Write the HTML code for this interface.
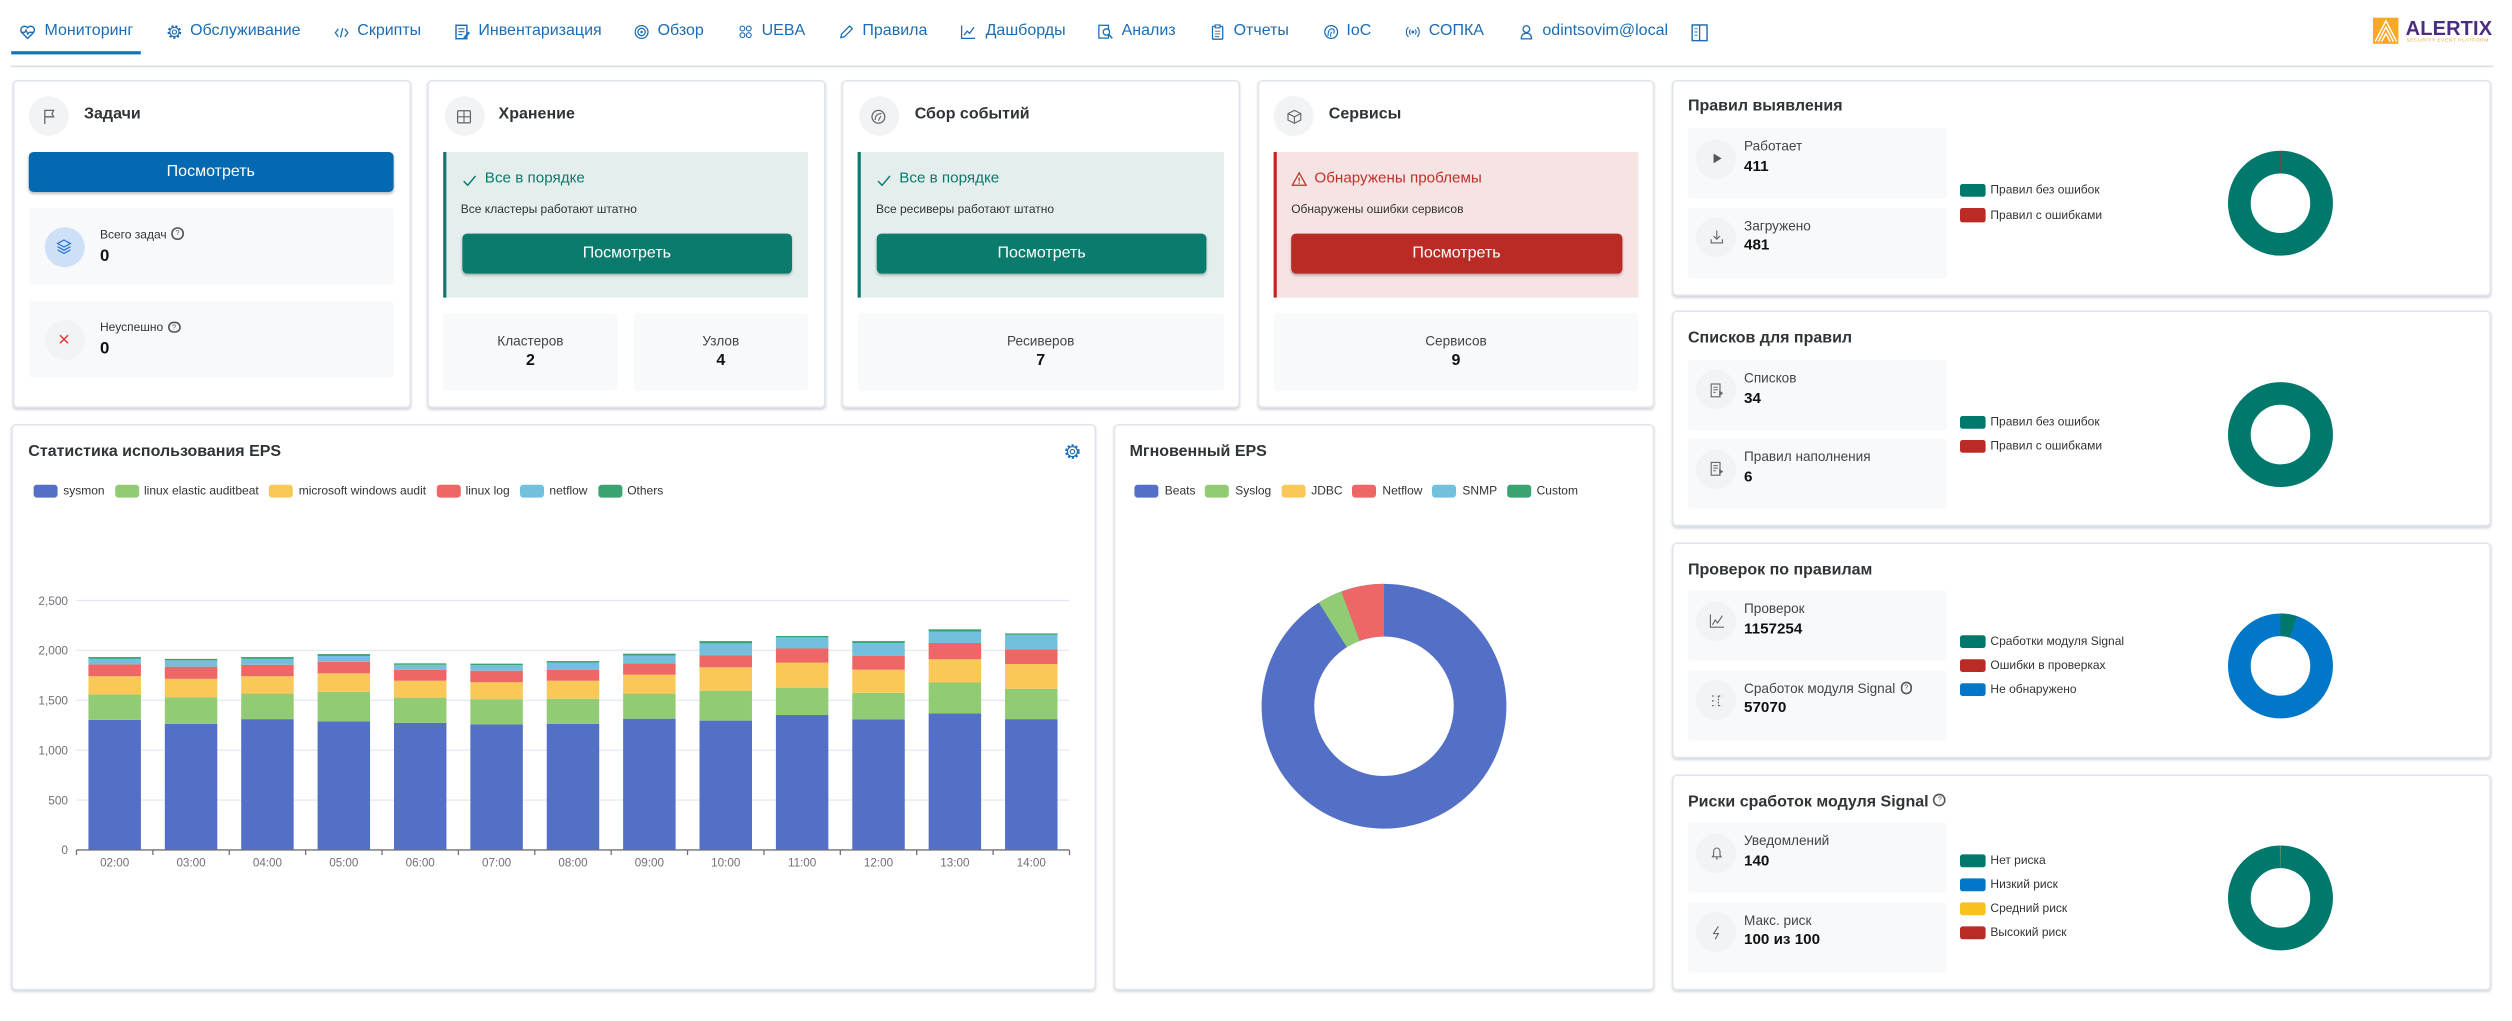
<!DOCTYPE html>
<html><head><meta charset="utf-8">
<style>
html,body{margin:0;padding:0;background:#fff;width:2512px;height:1021px;overflow:hidden;}
#w{position:absolute;left:0;top:0;width:1570px;height:638.2px;transform:scale(1.6);transform-origin:0 0;font-family:"Liberation Sans","DejaVu Sans",sans-serif;color:#333;}
.a{position:absolute;}
.t{position:absolute;white-space:nowrap;height:12px;line-height:12px;}
.nav{font-size:10px;color:#1b6cb4;top:14px;}
.card{position:absolute;background:#fff;border:1px solid #e1e5ec;border-radius:3px;box-sizing:border-box;box-shadow:0 1px 1.5px rgba(60,70,90,.22);}
.ic{position:absolute;width:25px;height:25px;border-radius:50%;background:#f1f3f5;}
.ic svg{position:absolute;left:7.5px;top:7.5px;}
.ttl{font-size:10px;font-weight:bold;color:#2f3439;}
.btn{position:absolute;height:25px;line-height:25px;text-align:center;color:#fff;font-size:10px;border-radius:3px;box-shadow:0 1px 1.5px rgba(0,0,0,.25);}
.box{position:absolute;background:#f7f9fb;border-radius:2px;}
.lbl{font-size:8.5px;color:#444;}
.val{font-size:9.5px;font-weight:bold;color:#111;}
.sl{font-size:7.5px;color:#333;}
.lg{position:absolute;width:15.4px;height:8.3px;border-radius:1.6px;}
.q{display:inline-block;width:5.6px;height:5.6px;border:0.7px solid #555;border-radius:50%;font-size:4.6px;line-height:5.8px;text-align:center;vertical-align:middle;margin-left:3px;color:#555;position:relative;top:-0.5px;}
.el{position:absolute;width:15px;height:7.9px;border-radius:2px;}
</style></head><body>
<div id="w">

<!-- NAV -->
<svg class="a" style="left:12.3px;top:15px" width="10.5" height="10" viewBox="0 0 10 10"><path d="M5 9 L1.3 5.3 A2.3 2.3 0 0 1 5 2.3 A2.3 2.3 0 0 1 8.7 5.3 Z" fill="none" stroke="#1b6cb4" stroke-width="0.9"/><path d="M1 5.2 H3.2 L4 3.8 L5.2 6.4 L6 5.2 H9" fill="none" stroke="#1b6cb4" stroke-width="0.8"/></svg>
<div class="t nav" style="left:27.8px">Мониторинг</div>
<div class="a" style="left:7px;top:32.4px;width:81px;height:1.7px;background:#1471c5"></div>

<svg class="a" style="left:103.6px;top:15px" width="10" height="10" viewBox="0 0 10 10"><circle cx="5" cy="5" r="3.6" fill="none" stroke="#1b6cb4" stroke-width="1.4" stroke-dasharray="1.3 1.2"/><circle cx="5" cy="5" r="2.9" fill="none" stroke="#1b6cb4" stroke-width="0.7"/><circle cx="5" cy="5" r="1.3" fill="none" stroke="#1b6cb4" stroke-width="0.7"/></svg>
<div class="t nav" style="left:118.8px">Обслуживание</div>

<svg class="a" style="left:208.5px;top:15.5px" width="9" height="9" viewBox="0 0 9 9"><path d="M2.5 2 L0.6 4.5 L2.5 7 M6.5 2 L8.4 4.5 L6.5 7 M5.2 1.5 L3.8 7.5" fill="none" stroke="#1b6cb4" stroke-width="0.8"/></svg>
<div class="t nav" style="left:223.3px">Скрипты</div>

<svg class="a" style="left:284px;top:15px" width="10" height="10" viewBox="0 0 10 10"><rect x="1" y="0.8" width="6.8" height="8.4" fill="none" stroke="#1b6cb4" stroke-width="0.9"/><path d="M2.5 3H6.3M2.5 4.8H6.3M2.5 6.6H5" stroke="#1b6cb4" stroke-width="0.7"/><path d="M6 8.8 L9.3 5.2" stroke="#1b6cb4" stroke-width="1.3"/></svg>
<div class="t nav" style="left:299px">Инвентаризация</div>

<svg class="a" style="left:396px;top:15px" width="10" height="10" viewBox="0 0 10 10"><circle cx="5" cy="5" r="4" fill="none" stroke="#1b6cb4" stroke-width="0.8"/><circle cx="5" cy="5" r="2.3" fill="none" stroke="#1b6cb4" stroke-width="0.8"/><circle cx="5" cy="5" r="0.8" fill="#1b6cb4"/></svg>
<div class="t nav" style="left:411px">Обзор</div>

<svg class="a" style="left:461px;top:15px" width="10" height="10" viewBox="0 0 10 10"><circle cx="3" cy="2.8" r="1.5" fill="none" stroke="#1b6cb4" stroke-width="0.7"/><circle cx="7" cy="2.8" r="1.5" fill="none" stroke="#1b6cb4" stroke-width="0.7"/><circle cx="3" cy="7" r="1.5" fill="none" stroke="#1b6cb4" stroke-width="0.7"/><circle cx="7" cy="7" r="1.5" fill="none" stroke="#1b6cb4" stroke-width="0.7"/></svg>
<div class="t nav" style="left:476px">UEBA</div>

<svg class="a" style="left:524px;top:15px" width="10" height="10" viewBox="0 0 10 10"><path d="M1.5 8.5 L2 6.3 L7 1.3 L8.7 3 L3.7 8 Z" fill="none" stroke="#1b6cb4" stroke-width="0.8"/></svg>
<div class="t nav" style="left:539px">Правила</div>

<svg class="a" style="left:600px;top:15px" width="10" height="10" viewBox="0 0 10 10"><path d="M1 1 V9 H9.5" fill="none" stroke="#1b6cb4" stroke-width="0.8"/><path d="M2.5 7 L4.5 4.5 L6 5.8 L8.8 2" fill="none" stroke="#1b6cb4" stroke-width="0.8"/></svg>
<div class="t nav" style="left:616px">Дашборды</div>

<svg class="a" style="left:686px;top:15px" width="10" height="10" viewBox="0 0 10 10"><rect x="0.8" y="0.8" width="6" height="8" fill="none" stroke="#1b6cb4" stroke-width="0.8"/><circle cx="5.5" cy="5" r="2" fill="#fff" stroke="#1b6cb4" stroke-width="0.8"/><path d="M7 6.5 L9.2 9" stroke="#1b6cb4" stroke-width="0.9"/></svg>
<div class="t nav" style="left:701px">Анализ</div>

<svg class="a" style="left:756px;top:15px" width="10" height="10" viewBox="0 0 10 10"><rect x="1.8" y="1.5" width="6.4" height="8" rx="0.6" fill="none" stroke="#1b6cb4" stroke-width="0.8"/><rect x="3.5" y="0.6" width="3" height="1.8" fill="#fff" stroke="#1b6cb4" stroke-width="0.7"/><path d="M3.3 4.5H6.7M3.3 6.2H6.7M3.3 7.9H6" stroke="#1b6cb4" stroke-width="0.6"/></svg>
<div class="t nav" style="left:771px">Отчеты</div>

<svg class="a" style="left:827px;top:15px" width="10" height="10" viewBox="0 0 10 10"><circle cx="5" cy="5" r="4" fill="none" stroke="#1b6cb4" stroke-width="0.8"/><path d="M3 7.5 C3 4 4 3 5.5 3 C7 3 7.2 4.5 6.5 6 M4.6 8 C4.6 6 5 5 5.6 5" fill="none" stroke="#1b6cb4" stroke-width="0.7"/></svg>
<div class="t nav" style="left:841.5px">IoC</div>

<svg class="a" style="left:878px;top:15px" width="10" height="10" viewBox="0 0 10 10"><path d="M2.3 2 A4 4 0 0 0 2.3 8 M7.7 2 A4 4 0 0 1 7.7 8 M3.6 3.4 A2.2 2.2 0 0 0 3.6 6.6 M6.4 3.4 A2.2 2.2 0 0 1 6.4 6.6" fill="none" stroke="#1b6cb4" stroke-width="0.7"/><circle cx="5" cy="5" r="0.9" fill="#1b6cb4"/></svg>
<div class="t nav" style="left:893px">СОПКА</div>

<svg class="a" style="left:949px;top:15px" width="10" height="10" viewBox="0 0 10 10"><circle cx="5" cy="3.2" r="2.1" fill="none" stroke="#1b6cb4" stroke-width="0.8"/><path d="M1.8 9.3 C1.8 6.5 3.2 5.8 5 5.8 C6.8 5.8 8.2 6.5 8.2 9.3 Z" fill="none" stroke="#1b6cb4" stroke-width="0.8"/></svg>
<div class="t nav" style="left:964px">odintsovim@local</div>

<svg class="a" style="left:1057px;top:14.5px" width="10.5" height="11" viewBox="0 0 10.5 11"><rect x="0.6" y="0.6" width="9.3" height="9.8" fill="none" stroke="#1b6cb4" stroke-width="0.9"/><path d="M5.25 0.6V10.4" stroke="#1b6cb4" stroke-width="0.8"/><path d="M2 3H4M2 5H4M2 7H4" stroke="#1b6cb4" stroke-width="0.6"/></svg>

<!-- logo -->
<svg class="a" style="left:1483px;top:11.4px" width="16.4" height="16.4" viewBox="0 0 16.4 16.4"><rect width="16.4" height="16.4" fill="#f8a823"/><path d="M1.5 15 L8.2 2 L14.9 15 M3.5 15 L8.2 6 L12.9 15 M5.5 15 L8.2 10 L10.9 15" fill="none" stroke="#fff" stroke-width="0.9"/></svg>
<div class="t" style="left:1503.5px;top:11.5px;font-size:12.5px;font-weight:bold;color:#4b2d80;letter-spacing:0.1px">ALERTIX</div>
<div class="t" style="left:1504px;top:19px;font-size:3.1px;color:#f3a42a;letter-spacing:0.32px">SECURITY EVENT PLATFORM</div>

<div class="a" style="left:7px;top:41.2px;width:1551px;height:1px;background:#d5dce7"></div>

<!-- ===== CARD 1 ===== -->
<div class="card" style="left:7.5px;top:49.5px;width:249px;height:205px"></div>
<div class="ic" style="left:18px;top:60px"><svg width="10" height="10" viewBox="0 0 10 10"><path d="M2 9.5V1 H7.5 L6.5 3 L7.5 5 H2" fill="none" stroke="#666" stroke-width="0.8"/></svg></div>
<div class="t ttl" style="left:52.5px;top:66.4px">Задачи</div>
<div class="btn" style="left:17.5px;top:95px;width:228.5px;background:#0569b1">Посмотреть</div>

<div class="box" style="left:17.5px;top:130px;width:228.5px;height:48px"></div>
<div class="ic" style="left:27.5px;top:141.5px;background:#cde0f7"><svg width="10" height="10" viewBox="0 0 10 10"><path d="M5 1 L9 3.2 L5 5.4 L1 3.2 Z" fill="none" stroke="#2c78cf" stroke-width="0.8"/><path d="M1 5.2 L5 7.4 L9 5.2 M1 7.2 L5 9.4 L9 7.2" fill="none" stroke="#2c78cf" stroke-width="0.8"/></svg></div>
<div class="t sl" style="left:62.5px;top:140.7px">Всего задач<span class="q">?</span></div>
<div class="t" style="left:62.5px;top:154px;font-size:10.5px;font-weight:bold;color:#111">0</div>

<div class="box" style="left:17.5px;top:188px;width:228.5px;height:48px"></div>
<div class="ic" style="left:27.5px;top:199.5px"><svg width="10" height="10" viewBox="0 0 10 10"><path d="M2.5 2.5 L7.5 7.5 M7.5 2.5 L2.5 7.5" stroke="#d93a35" stroke-width="0.9"/></svg></div>
<div class="t sl" style="left:62.5px;top:199px">Неуспешно<span class="q">?</span></div>
<div class="t" style="left:62.5px;top:212px;font-size:10.5px;font-weight:bold;color:#111">0</div>

<!-- ===== CARD 2 ===== -->
<div class="card" style="left:266.8px;top:49.5px;width:249px;height:205px"></div>
<div class="ic" style="left:277.6px;top:60px"><svg width="10" height="10" viewBox="0 0 10 10"><rect x="1" y="1.2" width="8" height="7.6" rx="0.8" fill="none" stroke="#666" stroke-width="0.8"/><path d="M1 5H9M5 1.2V8.8" stroke="#666" stroke-width="0.7"/></svg></div>
<div class="t ttl" style="left:311.6px;top:66.4px">Хранение</div>
<div class="a" style="left:277px;top:95px;width:228px;height:91px;background:#e3eeed;border-left:2px solid #0b7b6e;box-sizing:border-box"></div>
<svg class="a" style="left:289px;top:108.5px" width="9" height="8" viewBox="0 0 9 8"><path d="M0.8 4.2 L3.3 6.8 L8.2 1" fill="none" stroke="#0b7b6e" stroke-width="0.9"/></svg>
<div class="t" style="left:303px;top:106.4px;font-size:9.5px;color:#0b7b6e">Все в порядке</div>
<div class="t sl" style="left:288px;top:124.5px">Все кластеры работают штатно</div>
<div class="btn" style="left:288.6px;top:146px;width:206.4px;background:#0b7b6e">Посмотреть</div>
<div class="box" style="left:277px;top:196px;width:109px;height:48px"></div>
<div class="t lbl" style="left:277px;top:206.7px;width:109px;text-align:center">Кластеров</div>
<div class="t" style="left:277px;top:220px;width:109px;text-align:center;font-size:10px;font-weight:bold;color:#111">2</div>
<div class="box" style="left:396px;top:196px;width:109px;height:48px"></div>
<div class="t lbl" style="left:396px;top:206.7px;width:109px;text-align:center">Узлов</div>
<div class="t" style="left:396px;top:220px;width:109px;text-align:center;font-size:10px;font-weight:bold;color:#111">4</div>

<!-- ===== CARD 3 ===== -->
<div class="card" style="left:526px;top:49.5px;width:249px;height:205px"></div>
<div class="ic" style="left:536.6px;top:60px"><svg width="10" height="10" viewBox="0 0 10 10"><circle cx="5" cy="5" r="4" fill="none" stroke="#666" stroke-width="0.8"/><path d="M3 7 C3 4 4.5 3 7 3 M5 7.5 L6.5 4.5" fill="none" stroke="#666" stroke-width="0.7"/></svg></div>
<div class="t ttl" style="left:571.7px;top:66.4px">Сбор событий</div>
<div class="a" style="left:536.2px;top:95px;width:228.5px;height:91px;background:#e3eeed;border-left:2px solid #0b7b6e;box-sizing:border-box"></div>
<svg class="a" style="left:548px;top:108.5px" width="9" height="8" viewBox="0 0 9 8"><path d="M0.8 4.2 L3.3 6.8 L8.2 1" fill="none" stroke="#0b7b6e" stroke-width="0.9"/></svg>
<div class="t" style="left:562px;top:106.4px;font-size:9.5px;color:#0b7b6e">Все в порядке</div>
<div class="t sl" style="left:547.5px;top:124.5px">Все ресиверы работают штатно</div>
<div class="btn" style="left:547.7px;top:146px;width:206.6px;background:#0b7b6e">Посмотреть</div>
<div class="box" style="left:536.2px;top:196px;width:228.5px;height:48px"></div>
<div class="t lbl" style="left:536.2px;top:206.7px;width:228.5px;text-align:center">Ресиверов</div>
<div class="t" style="left:536.2px;top:220px;width:228.5px;text-align:center;font-size:10px;font-weight:bold;color:#111">7</div>

<!-- ===== CARD 4 ===== -->
<div class="card" style="left:785.5px;top:49.5px;width:248.5px;height:205px"></div>
<div class="ic" style="left:796px;top:60px"><svg width="10" height="10" viewBox="0 0 10 10"><path d="M5 1 L9 3 V7 L5 9 L1 7 V3 Z M1 3 L5 5 L9 3 M5 5 V9" fill="none" stroke="#666" stroke-width="0.7"/></svg></div>
<div class="t ttl" style="left:830.5px;top:66.4px">Сервисы</div>
<div class="a" style="left:796px;top:95px;width:228px;height:91px;background:#f6e4e4;border-left:2px solid #ba2b25;box-sizing:border-box"></div>
<svg class="a" style="left:806.5px;top:107px" width="10" height="10" viewBox="0 0 10 10"><path d="M5 1 L9.3 8.8 H0.7 Z" fill="none" stroke="#c0302a" stroke-width="0.8"/><path d="M5 4 V6.4" stroke="#c0302a" stroke-width="0.8"/><circle cx="5" cy="7.5" r="0.45" fill="#c0302a"/></svg>
<div class="t" style="left:821.5px;top:106.4px;font-size:9.5px;color:#c0302a">Обнаружены проблемы</div>
<div class="t sl" style="left:807px;top:124.5px">Обнаружены ошибки сервисов</div>
<div class="btn" style="left:807px;top:146px;width:206.6px;background:#ba2b25">Посмотреть</div>
<div class="box" style="left:796px;top:196px;width:228px;height:48px"></div>
<div class="t lbl" style="left:796px;top:206.7px;width:228px;text-align:center">Сервисов</div>
<div class="t" style="left:796px;top:220px;width:228px;text-align:center;font-size:10px;font-weight:bold;color:#111">9</div>

<!-- ===== EPS STAT CARD ===== -->
<div class="card" style="left:7.3px;top:265px;width:678px;height:353.5px"></div>
<div class="t ttl" style="left:17.7px;top:276.5px">Статистика использования EPS</div>
<svg class="a" style="left:664.8px;top:277px" width="10.5" height="10.5" viewBox="0 0 10 10"><circle cx="5" cy="5" r="3.7" fill="none" stroke="#1b6cb4" stroke-width="1.3" stroke-dasharray="1.3 1.1"/><circle cx="5" cy="5" r="3" fill="none" stroke="#1b6cb4" stroke-width="0.7"/><circle cx="5" cy="5" r="1.3" fill="none" stroke="#1b6cb4" stroke-width="0.7"/></svg>

<div class="el" style="left:20.7px;top:303px;background:#5470c6"></div><div class="t sl" style="left:39.5px;top:301px">sysmon</div>
<div class="el" style="left:71.5px;top:303px;background:#91cc75"></div><div class="t sl" style="left:90px;top:301px">linux elastic auditbeat</div>
<div class="el" style="left:168.3px;top:303px;background:#fac858"></div><div class="t sl" style="left:186.7px;top:301px">microsoft windows audit</div>
<div class="el" style="left:272.5px;top:303px;background:#ee6666"></div><div class="t sl" style="left:291px;top:301px">linux log</div>
<div class="el" style="left:325px;top:303px;background:#73c0de"></div><div class="t sl" style="left:343.4px;top:301px">netflow</div>
<div class="el" style="left:373.7px;top:303px;background:#3ba272"></div><div class="t sl" style="left:392px;top:301px">Others</div>

<!-- ===== INSTANT EPS ===== -->
<div class="card" style="left:695.6px;top:265px;width:338px;height:353.5px"></div>
<div class="t ttl" style="left:706px;top:276.6px">Мгновенный EPS</div>
<div class="el" style="left:709px;top:303px;background:#5470c6"></div><div class="t sl" style="left:728px;top:301px">Beats</div>
<div class="el" style="left:753.3px;top:303px;background:#91cc75"></div><div class="t sl" style="left:772px;top:301px">Syslog</div>
<div class="el" style="left:800.8px;top:303px;background:#fac858"></div><div class="t sl" style="left:819.5px;top:301px">JDBC</div>
<div class="el" style="left:845px;top:303px;background:#ee6666"></div><div class="t sl" style="left:864px;top:301px">Netflow</div>
<div class="el" style="left:895px;top:303px;background:#73c0de"></div><div class="t sl" style="left:914px;top:301px">SNMP</div>
<div class="el" style="left:941.7px;top:303px;background:#3ba272"></div><div class="t sl" style="left:960.4px;top:301px">Custom</div>

<!-- ===== RIGHT PANELS ===== -->
<!-- Panel 1 T=50 -->
<div class="card" style="left:1044.8px;top:49.5px;width:512.7px;height:135px"></div>
<div class="t ttl" style="left:1055px;top:61.4px">Правил выявления</div>
<div class="box" style="left:1055px;top:80px;width:162px;height:44.2px"></div>
<div class="ic" style="left:1060px;top:86.5px"><svg width="10" height="10" viewBox="0 0 10 10"><path d="M3 2 L8 5 L3 8 Z" fill="#555"/></svg></div>
<div class="t lbl" style="left:1090px;top:85.1px">Работает</div>
<div class="t val" style="left:1090px;top:99.1px">411</div>
<div class="box" style="left:1055px;top:129.6px;width:162px;height:44px"></div>
<div class="ic" style="left:1060px;top:135.9px"><svg width="10" height="10" viewBox="0 0 10 10"><path d="M5 1 V6.3 M3 4.5 L5 6.5 L7 4.5 M1.5 6.5 V8.8 H8.5 V6.5" fill="none" stroke="#666" stroke-width="0.7"/></svg></div>
<div class="t lbl" style="left:1090px;top:134.7px">Загружено</div>
<div class="t val" style="left:1090px;top:148.2px">481</div>
<div class="lg" style="left:1225.3px;top:115.2px;background:#00786c"></div><div class="t sl" style="left:1244px;top:113.3px">Правил без ошибок</div>
<div class="lg" style="left:1225.3px;top:130.4px;background:#ba2b25"></div><div class="t sl" style="left:1244px;top:128.5px">Правил с ошибками</div>

<!-- Panel 2 T=194.6 -->
<div class="card" style="left:1044.8px;top:194.1px;width:512.7px;height:135px"></div>
<div class="t ttl" style="left:1055px;top:206px">Списков для правил</div>
<div class="box" style="left:1055px;top:224.6px;width:162px;height:44.2px"></div>
<div class="ic" style="left:1060px;top:231.1px"><svg width="10" height="10" viewBox="0 0 10 10"><rect x="1.5" y="1" width="5.5" height="8" fill="none" stroke="#666" stroke-width="0.7"/><path d="M2.8 3H5.7M2.8 4.6H5.7M2.8 6.2H4.5" stroke="#666" stroke-width="0.6"/><path d="M6.5 5 L9 6.8 L6.5 8.6 Z" fill="#666"/></svg></div>
<div class="t lbl" style="left:1090px;top:229.7px">Списков</div>
<div class="t val" style="left:1090px;top:243.7px">34</div>
<div class="box" style="left:1055px;top:274.2px;width:162px;height:44px"></div>
<div class="ic" style="left:1060px;top:280.5px"><svg width="10" height="10" viewBox="0 0 10 10"><rect x="1.5" y="1" width="5.5" height="8" fill="none" stroke="#666" stroke-width="0.7"/><path d="M2.8 3H5.7M2.8 4.6H5.7M2.8 6.2H4.5" stroke="#666" stroke-width="0.6"/><path d="M6.5 5 L9 6.8 L6.5 8.6 Z" fill="#666"/></svg></div>
<div class="t lbl" style="left:1090px;top:279.3px">Правил наполнения</div>
<div class="t val" style="left:1090px;top:292.8px">6</div>
<div class="lg" style="left:1225.3px;top:259.8px;background:#00786c"></div><div class="t sl" style="left:1244px;top:257.9px">Правил без ошибок</div>
<div class="lg" style="left:1225.3px;top:275px;background:#ba2b25"></div><div class="t sl" style="left:1244px;top:273.1px">Правил с ошибками</div>

<!-- Panel 3 T=339.2 -->
<div class="card" style="left:1044.8px;top:338.7px;width:512.7px;height:135px"></div>
<div class="t ttl" style="left:1055px;top:350.6px">Проверок по правилам</div>
<div class="box" style="left:1055px;top:369.2px;width:162px;height:44.2px"></div>
<div class="ic" style="left:1060px;top:375.7px"><svg width="10" height="10" viewBox="0 0 10 10"><path d="M1 1 V9 H9.5" fill="none" stroke="#666" stroke-width="0.7"/><path d="M2.3 7.5 L4 4.5 L5.5 6.3 L8.5 1.8" fill="none" stroke="#666" stroke-width="0.7"/></svg></div>
<div class="t lbl" style="left:1090px;top:374.3px">Проверок</div>
<div class="t val" style="left:1090px;top:388.3px">1157254</div>
<div class="box" style="left:1055px;top:418.8px;width:162px;height:44px"></div>
<div class="ic" style="left:1060px;top:425.1px"><svg width="10" height="10" viewBox="0 0 10 10"><path d="M2 2 H4 M2 5 H4 M2 8 H4 M6 2 V8 M6 2 H8 M6 8 H8" fill="none" stroke="#666" stroke-width="0.8" stroke-dasharray="1 0.8"/></svg></div>
<div class="t lbl" style="left:1090px;top:423.9px">Сработок модуля Signal<span class="q">?</span></div>
<div class="t val" style="left:1090px;top:437.4px">57070</div>
<div class="lg" style="left:1225.3px;top:397.1px;background:#00786c"></div><div class="t sl" style="left:1244px;top:395.2px">Сработки модуля Signal</div>
<div class="lg" style="left:1225.3px;top:411.9px;background:#ba2b25"></div><div class="t sl" style="left:1244px;top:410px">Ошибки в проверках</div>
<div class="lg" style="left:1225.3px;top:426.6px;background:#0277c7"></div><div class="t sl" style="left:1244px;top:424.7px">Не обнаружено</div>

<!-- Panel 4 T=484.2 -->
<div class="card" style="left:1044.8px;top:483.7px;width:512.7px;height:135px"></div>
<div class="t ttl" style="left:1055px;top:495.5px">Риски сработок модуля Signal<span class="q" style="font-weight:normal;width:6px;height:6px;line-height:6.2px">?</span></div>
<div class="box" style="left:1055px;top:514.2px;width:162px;height:44.2px"></div>
<div class="ic" style="left:1060px;top:520.7px"><svg width="10" height="10" viewBox="0 0 10 10"><path d="M2.3 7.5 H7.7 L7 6.5 V4.5 C7 3 6.2 2 5 2 C3.8 2 3 3 3 4.5 V6.5 Z" fill="none" stroke="#666" stroke-width="0.7"/><circle cx="5" cy="8.6" r="0.6" fill="#666"/></svg></div>
<div class="t lbl" style="left:1090px;top:519.3px">Уведомлений</div>
<div class="t val" style="left:1090px;top:533.3px">140</div>
<div class="box" style="left:1055px;top:563.8px;width:162px;height:44px"></div>
<div class="ic" style="left:1060px;top:570.1px"><svg width="10" height="10" viewBox="0 0 10 10"><path d="M6 1 L3 5.5 H6 L4 9" fill="none" stroke="#666" stroke-width="0.7"/></svg></div>
<div class="t lbl" style="left:1090px;top:568.9px">Макс. риск</div>
<div class="t val" style="left:1090px;top:582.4px">100 из 100</div>
<div class="lg" style="left:1225.3px;top:534.1px;background:#00786c"></div><div class="t sl" style="left:1244px;top:532.2px">Нет риска</div>
<div class="lg" style="left:1225.3px;top:548.9px;background:#0277c7"></div><div class="t sl" style="left:1244px;top:547px">Низкий риск</div>
<div class="lg" style="left:1225.3px;top:563.8px;background:#f9c11e"></div><div class="t sl" style="left:1244px;top:561.9px">Средний риск</div>
<div class="lg" style="left:1225.3px;top:578.8px;background:#ba2b25"></div><div class="t sl" style="left:1244px;top:576.9px">Высокий риск</div>

<!-- ===== CHARTS SVG ===== -->
<svg class="a" style="left:0;top:0" width="1570" height="638" viewBox="0 0 1570 638" font-family="Liberation Sans, DejaVu Sans, sans-serif">
  <!-- grid -->
  <g stroke="#e0e6f1" stroke-width="0.7">
    <line x1="47.8" x2="668.4" y1="375.3" y2="375.3"/>
    <line x1="47.8" x2="668.4" y1="406.48" y2="406.48"/>
    <line x1="47.8" x2="668.4" y1="437.66" y2="437.66"/>
    <line x1="47.8" x2="668.4" y1="468.84" y2="468.84"/>
    <line x1="47.8" x2="668.4" y1="500.02" y2="500.02"/>
  </g>
  <g font-size="7.4" fill="#6e7079" text-anchor="end">
    <text x="42.5" y="378">2,500</text>
    <text x="42.5" y="409.2">2,000</text>
    <text x="42.5" y="440.4">1,500</text>
    <text x="42.5" y="471.6">1,000</text>
    <text x="42.5" y="502.7">500</text>
    <text x="42.5" y="533.9">0</text>
  </g>
  <!-- bars -->
  <g transform="translate(0 531.2) scale(1 -0.06236)">
    <g fill="#5470c6">
      <rect x="55.27" y="0" width="32.8" height="1304"/>
      <rect x="103.01" y="0" width="32.8" height="1263"/>
      <rect x="150.75" y="0" width="32.8" height="1311"/>
      <rect x="198.49" y="0" width="32.8" height="1289"/>
      <rect x="246.23" y="0" width="32.8" height="1274"/>
      <rect x="293.97" y="0" width="32.8" height="1259"/>
      <rect x="341.71" y="0" width="32.8" height="1263"/>
      <rect x="389.45" y="0" width="32.8" height="1315"/>
      <rect x="437.19" y="0" width="32.8" height="1296"/>
      <rect x="484.93" y="0" width="32.8" height="1352"/>
      <rect x="532.67" y="0" width="32.8" height="1307"/>
      <rect x="580.41" y="0" width="32.8" height="1367"/>
      <rect x="628.15" y="0" width="32.8" height="1311"/>
    </g>
    <g fill="#91cc75">
      <rect x="55.27" y="1304" width="32.8" height="255"/>
      <rect x="103.01" y="1263" width="32.8" height="267"/>
      <rect x="150.75" y="1311" width="32.8" height="256"/>
      <rect x="198.49" y="1289" width="32.8" height="296"/>
      <rect x="246.23" y="1274" width="32.8" height="252"/>
      <rect x="293.97" y="1259" width="32.8" height="252"/>
      <rect x="341.71" y="1263" width="32.8" height="252"/>
      <rect x="389.45" y="1315" width="32.8" height="252"/>
      <rect x="437.19" y="1296" width="32.8" height="300"/>
      <rect x="484.93" y="1352" width="32.8" height="274"/>
      <rect x="532.67" y="1307" width="32.8" height="267"/>
      <rect x="580.41" y="1367" width="32.8" height="311"/>
      <rect x="628.15" y="1311" width="32.8" height="304"/>
    </g>
    <g fill="#fac858">
      <rect x="55.27" y="1559" width="32.8" height="182"/>
      <rect x="103.01" y="1530" width="32.8" height="185"/>
      <rect x="150.75" y="1567" width="32.8" height="174"/>
      <rect x="198.49" y="1585" width="32.8" height="185"/>
      <rect x="246.23" y="1526" width="32.8" height="170"/>
      <rect x="293.97" y="1511" width="32.8" height="170"/>
      <rect x="341.71" y="1515" width="32.8" height="181"/>
      <rect x="389.45" y="1567" width="32.8" height="189"/>
      <rect x="437.19" y="1596" width="32.8" height="234"/>
      <rect x="484.93" y="1626" width="32.8" height="252"/>
      <rect x="532.67" y="1574" width="32.8" height="233"/>
      <rect x="580.41" y="1678" width="32.8" height="233"/>
      <rect x="628.15" y="1615" width="32.8" height="248"/>
    </g>
    <g fill="#ee6666">
      <rect x="55.27" y="1741" width="32.8" height="118"/>
      <rect x="103.01" y="1715" width="32.8" height="122"/>
      <rect x="150.75" y="1741" width="32.8" height="115"/>
      <rect x="198.49" y="1770" width="32.8" height="115"/>
      <rect x="246.23" y="1696" width="32.8" height="108"/>
      <rect x="293.97" y="1681" width="32.8" height="115"/>
      <rect x="341.71" y="1696" width="32.8" height="108"/>
      <rect x="389.45" y="1756" width="32.8" height="114"/>
      <rect x="437.19" y="1830" width="32.8" height="122"/>
      <rect x="484.93" y="1878" width="32.8" height="141"/>
      <rect x="532.67" y="1807" width="32.8" height="137"/>
      <rect x="580.41" y="1911" width="32.8" height="163"/>
      <rect x="628.15" y="1863" width="32.8" height="148"/>
    </g>
    <g fill="#73c0de">
      <rect x="55.27" y="1859" width="32.8" height="56"/>
      <rect x="103.01" y="1837" width="32.8" height="63"/>
      <rect x="150.75" y="1856" width="32.8" height="59"/>
      <rect x="198.49" y="1885" width="32.8" height="59"/>
      <rect x="246.23" y="1804" width="32.8" height="52"/>
      <rect x="293.97" y="1796" width="32.8" height="56"/>
      <rect x="341.71" y="1804" width="32.8" height="74"/>
      <rect x="389.45" y="1870" width="32.8" height="78"/>
      <rect x="437.19" y="1952" width="32.8" height="118"/>
      <rect x="484.93" y="2019" width="32.8" height="111"/>
      <rect x="532.67" y="1944" width="32.8" height="130"/>
      <rect x="580.41" y="2074" width="32.8" height="115"/>
      <rect x="628.15" y="2011" width="32.8" height="145"/>
    </g>
    <g fill="#3ba272">
      <rect x="55.27" y="1915" width="32.8" height="18"/>
      <rect x="103.01" y="1900" width="32.8" height="15"/>
      <rect x="150.75" y="1915" width="32.8" height="18"/>
      <rect x="198.49" y="1944" width="32.8" height="19"/>
      <rect x="246.23" y="1856" width="32.8" height="14"/>
      <rect x="293.97" y="1852" width="32.8" height="15"/>
      <rect x="341.71" y="1878" width="32.8" height="15"/>
      <rect x="389.45" y="1948" width="32.8" height="19"/>
      <rect x="437.19" y="2070" width="32.8" height="23"/>
      <rect x="484.93" y="2130" width="32.8" height="14"/>
      <rect x="532.67" y="2074" width="32.8" height="19"/>
      <rect x="580.41" y="2189" width="32.8" height="22"/>
      <rect x="628.15" y="2156" width="32.8" height="14"/>
    </g>
  </g>
  <!-- x axis -->
  <line x1="47.8" x2="668.4" y1="531.2" y2="531.2" stroke="#6e7079" stroke-width="0.9"/>
  <g stroke="#6e7079" stroke-width="0.8">
    <line x1="47.8" x2="47.8" y1="531.2" y2="534.4"/>
    <line x1="95.54" x2="95.54" y1="531.2" y2="534.4"/>
    <line x1="143.28" x2="143.28" y1="531.2" y2="534.4"/>
    <line x1="191.02" x2="191.02" y1="531.2" y2="534.4"/>
    <line x1="238.76" x2="238.76" y1="531.2" y2="534.4"/>
    <line x1="286.5" x2="286.5" y1="531.2" y2="534.4"/>
    <line x1="334.24" x2="334.24" y1="531.2" y2="534.4"/>
    <line x1="381.98" x2="381.98" y1="531.2" y2="534.4"/>
    <line x1="429.72" x2="429.72" y1="531.2" y2="534.4"/>
    <line x1="477.46" x2="477.46" y1="531.2" y2="534.4"/>
    <line x1="525.2" x2="525.2" y1="531.2" y2="534.4"/>
    <line x1="572.94" x2="572.94" y1="531.2" y2="534.4"/>
    <line x1="620.68" x2="620.68" y1="531.2" y2="534.4"/>
    <line x1="668.42" x2="668.42" y1="531.2" y2="534.4"/>
  </g>
  <g font-size="7.3" fill="#6e7079" text-anchor="middle">
    <text x="71.67" y="541.5">02:00</text>
    <text x="119.41" y="541.5">03:00</text>
    <text x="167.15" y="541.5">04:00</text>
    <text x="214.89" y="541.5">05:00</text>
    <text x="262.63" y="541.5">06:00</text>
    <text x="310.37" y="541.5">07:00</text>
    <text x="358.11" y="541.5">08:00</text>
    <text x="405.85" y="541.5">09:00</text>
    <text x="453.59" y="541.5">10:00</text>
    <text x="501.33" y="541.5">11:00</text>
    <text x="549.07" y="541.5">12:00</text>
    <text x="596.81" y="541.5">13:00</text>
    <text x="644.55" y="541.5">14:00</text>
  </g>

  <!-- instant EPS donut -->
  <circle cx="865" cy="441.4" r="60.05" fill="none" stroke="#5470c6" stroke-width="32.9"/>
  <g transform="rotate(-90 865 441.4)" fill="none" stroke-width="32.9">
    <circle cx="865" cy="441.4" r="60.05" stroke="#91cc75" stroke-dasharray="12.37 400" stroke-dashoffset="-343.45"/>
    <circle cx="865" cy="441.4" r="60.05" stroke="#ee6666" stroke-dasharray="21.49 400" stroke-dashoffset="-355.8"/>
  </g>

  <!-- right donuts -->
  <circle cx="1425.3" cy="127" r="25.7" fill="none" stroke="#00786c" stroke-width="14.2"/>
  <circle cx="1425.3" cy="127" r="25.7" fill="none" stroke="#ba2b25" stroke-width="14.2" stroke-dasharray="0.35 200" transform="rotate(-90 1425.3 127)"/>

  <circle cx="1425.3" cy="271.6" r="25.7" fill="none" stroke="#00786c" stroke-width="14.2"/>

  <circle cx="1425.3" cy="416.2" r="25.7" fill="none" stroke="#0277c7" stroke-width="14.2"/>
  <circle cx="1425.3" cy="416.2" r="25.7" fill="none" stroke="#00786c" stroke-width="14.2" stroke-dasharray="8.25 200" transform="rotate(-90 1425.3 416.2)"/>

  <circle cx="1425.3" cy="561.2" r="25.7" fill="none" stroke="#00786c" stroke-width="14.2"/>
  <g transform="rotate(-90 1425.3 561.2)" fill="none" stroke-width="14.2">
    <circle cx="1425.3" cy="561.2" r="25.7" stroke="#0277c7" stroke-dasharray="0.4 200" stroke-dashoffset="-160.6"/>
    <circle cx="1425.3" cy="561.2" r="25.7" stroke="#f9c11e" stroke-dasharray="0.45 200" stroke-dashoffset="-161.03"/>
  </g>
</svg>

</div>
</body></html>
